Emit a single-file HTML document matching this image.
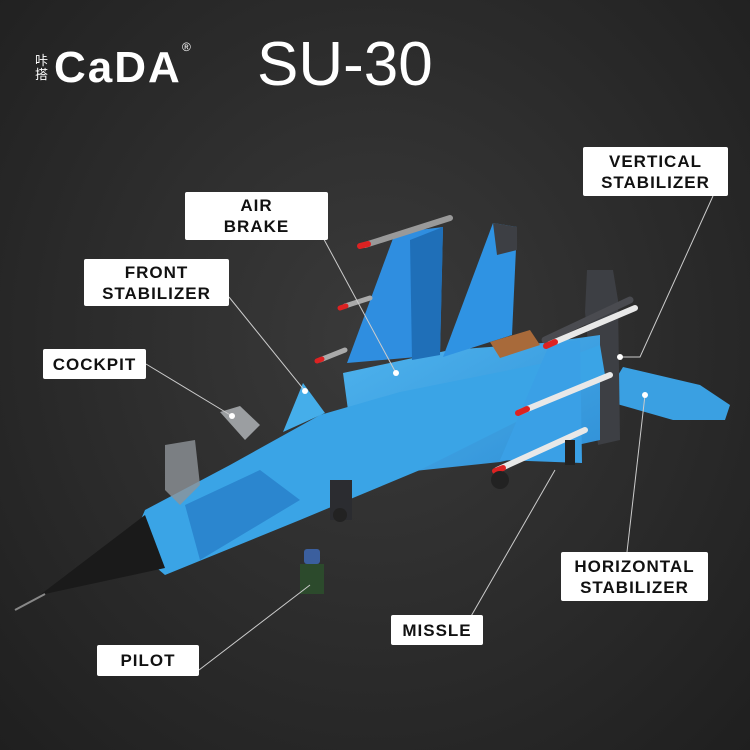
<!DOCTYPE html>
<html><head><meta charset="utf-8"><style>
html,body{margin:0;padding:0;}
body{width:750px;height:750px;overflow:hidden;background:radial-gradient(ellipse at 50% 45%,#3a3a3a 0%,#2b2b2b 55%,#1f1f1f 100%);position:relative;font-family:"Liberation Sans","Noto Sans CJK SC",sans-serif;}
.lb{position:absolute;background:#fff;color:#111;font-weight:bold;font-size:17px;letter-spacing:1px;text-align:center;line-height:21px;border-radius:2px;display:flex;align-items:center;justify-content:center;}
svg{position:absolute;left:0;top:0;}
</style></head><body>
<svg width="750" height="750" viewBox="0 0 750 750">
<defs><linearGradient id="b" x1="0" y1="0" x2="1" y2="1"><stop offset="0" stop-color="#4fb4ee"/><stop offset="1" stop-color="#2f8fd6"/></linearGradient></defs>
<polygon points="603,400 623,367 700,385 730,405 725,420 673,420 610,402" fill="#3aa0e2"/>
<polygon points="585,312 587,270 613,270 618,300 620,440 598,445" fill="#3d3f44"/>
<polygon points="343,373 450,350 543,343 600,335 600,440 500,462 357,477" fill="url(#b)"/>
<polygon points="347,363 395,233 443,227 440,355" fill="#2f8ee0"/>
<polygon points="410,240 443,227 440,355 412,360" fill="#1f6fb8"/>
<polygon points="443,357 493,223 517,227 512,335" fill="#2f93e3"/>
<polygon points="493,223 517,227 517,250 497,255" fill="#3d3f44"/>
<!-- fuselage -->
<polygon points="145,510 230,465 320,415 400,392 560,360 600,345 605,375 560,400 420,470 300,520 165,575 130,545" fill="#3aa4e6"/>
<polygon points="185,505 260,470 300,500 200,560" fill="#2b86cf"/>
<polygon points="500,460 550,343 580,340 582,463" fill="#3aa0e6"/>
<polygon points="283,432 303,383 325,413" fill="#45aeea"/>
<polygon points="40,595 145,515 165,568" fill="#1a1a1a"/>
<line x1="15" y1="610" x2="45" y2="594" stroke="#888" stroke-width="2"/>
<polygon points="165,445 195,440 200,485 180,505 165,490" fill="#8f9499" opacity="0.8"/>
<polygon points="220,412 240,406 260,425 245,440" fill="#b5b9bd" opacity="0.8"/>
<polygon points="490,342 530,330 540,345 500,358" fill="#a86a3a"/>
<g stroke-linecap="round">
<line x1="365" y1="245" x2="450" y2="218" stroke="#999" stroke-width="6"/>
<line x1="360" y1="246" x2="368" y2="244" stroke="#d22" stroke-width="6"/>
<line x1="345" y1="306" x2="370" y2="298" stroke="#aaa" stroke-width="5"/>
<line x1="340" y1="308" x2="346" y2="306" stroke="#d22" stroke-width="5"/>
<line x1="320" y1="360" x2="345" y2="350" stroke="#aaa" stroke-width="5"/>
<line x1="317" y1="361" x2="322" y2="359" stroke="#d22" stroke-width="5"/>
<line x1="545" y1="340" x2="630" y2="300" stroke="#4a4b50" stroke-width="7"/>
<line x1="550" y1="344" x2="635" y2="308" stroke="#e8e8e8" stroke-width="6"/>
<line x1="546" y1="346" x2="555" y2="342" stroke="#d22" stroke-width="6"/>
<line x1="520" y1="412" x2="610" y2="375" stroke="#e8e8e8" stroke-width="6"/>
<line x1="518" y1="413" x2="527" y2="409" stroke="#d22" stroke-width="6"/>
<line x1="497" y1="470" x2="585" y2="430" stroke="#e8e8e8" stroke-width="6"/>
<line x1="495" y1="471" x2="503" y2="468" stroke="#d22" stroke-width="6"/>
</g>
<rect x="330" y="480" width="22" height="40" fill="#2b2c30"/>
<circle cx="340" cy="515" r="7" fill="#222"/>
<circle cx="500" cy="480" r="9" fill="#222"/>
<rect x="565" y="440" width="10" height="25" fill="#222"/>
<rect x="304" y="549" width="16" height="15" rx="3" fill="#3b5f9e"/>
<rect x="300" y="564" width="24" height="30" fill="#2c4a2c"/>
<g stroke="#ccc" stroke-width="1" fill="none">
<polyline points="320,232 396,373"/>
<polyline points="229,297 305,391"/>
<polyline points="146,364 232,416"/>
<polyline points="713,196 640,357 620,357"/>
<polyline points="627,552 645,395"/>
<polyline points="470,618 555,470"/>
<polyline points="199,670 310,585"/>
</g>
<g fill="#fff"><circle cx="396" cy="373" r="3"/><circle cx="305" cy="391" r="3"/><circle cx="232" cy="416" r="3"/><circle cx="620" cy="357" r="3"/><circle cx="645" cy="395" r="3"/></g>
</svg>
<div style="position:absolute;left:35px;top:54px;color:#fff;font-size:13px;line-height:14px;width:14px;">咔搭</div>
<div style="position:absolute;left:54px;top:44px;color:#fff;font-size:44px;font-weight:bold;letter-spacing:2px;line-height:48px;">CaDA</div>
<div style="position:absolute;left:182px;top:40px;color:#fff;font-size:12px;">®</div>
<div style="position:absolute;left:257px;top:32px;color:#fff;font-size:62px;line-height:66px;">SU-30</div>
<div class="lb" style="left:185px;top:192px;width:143px;height:48px;">AIR<br>BRAKE</div>
<div class="lb" style="left:84px;top:259px;width:145px;height:47px;">FRONT<br>STABILIZER</div>
<div class="lb" style="left:43px;top:349px;width:103px;height:30px;">COCKPIT</div>
<div class="lb" style="left:583px;top:147px;width:145px;height:49px;">VERTICAL<br>STABILIZER</div>
<div class="lb" style="left:561px;top:552px;width:147px;height:49px;">HORIZONTAL<br>STABILIZER</div>
<div class="lb" style="left:391px;top:615px;width:92px;height:30px;">MISSLE</div>
<div class="lb" style="left:97px;top:645px;width:102px;height:31px;">PILOT</div>
</body></html>
